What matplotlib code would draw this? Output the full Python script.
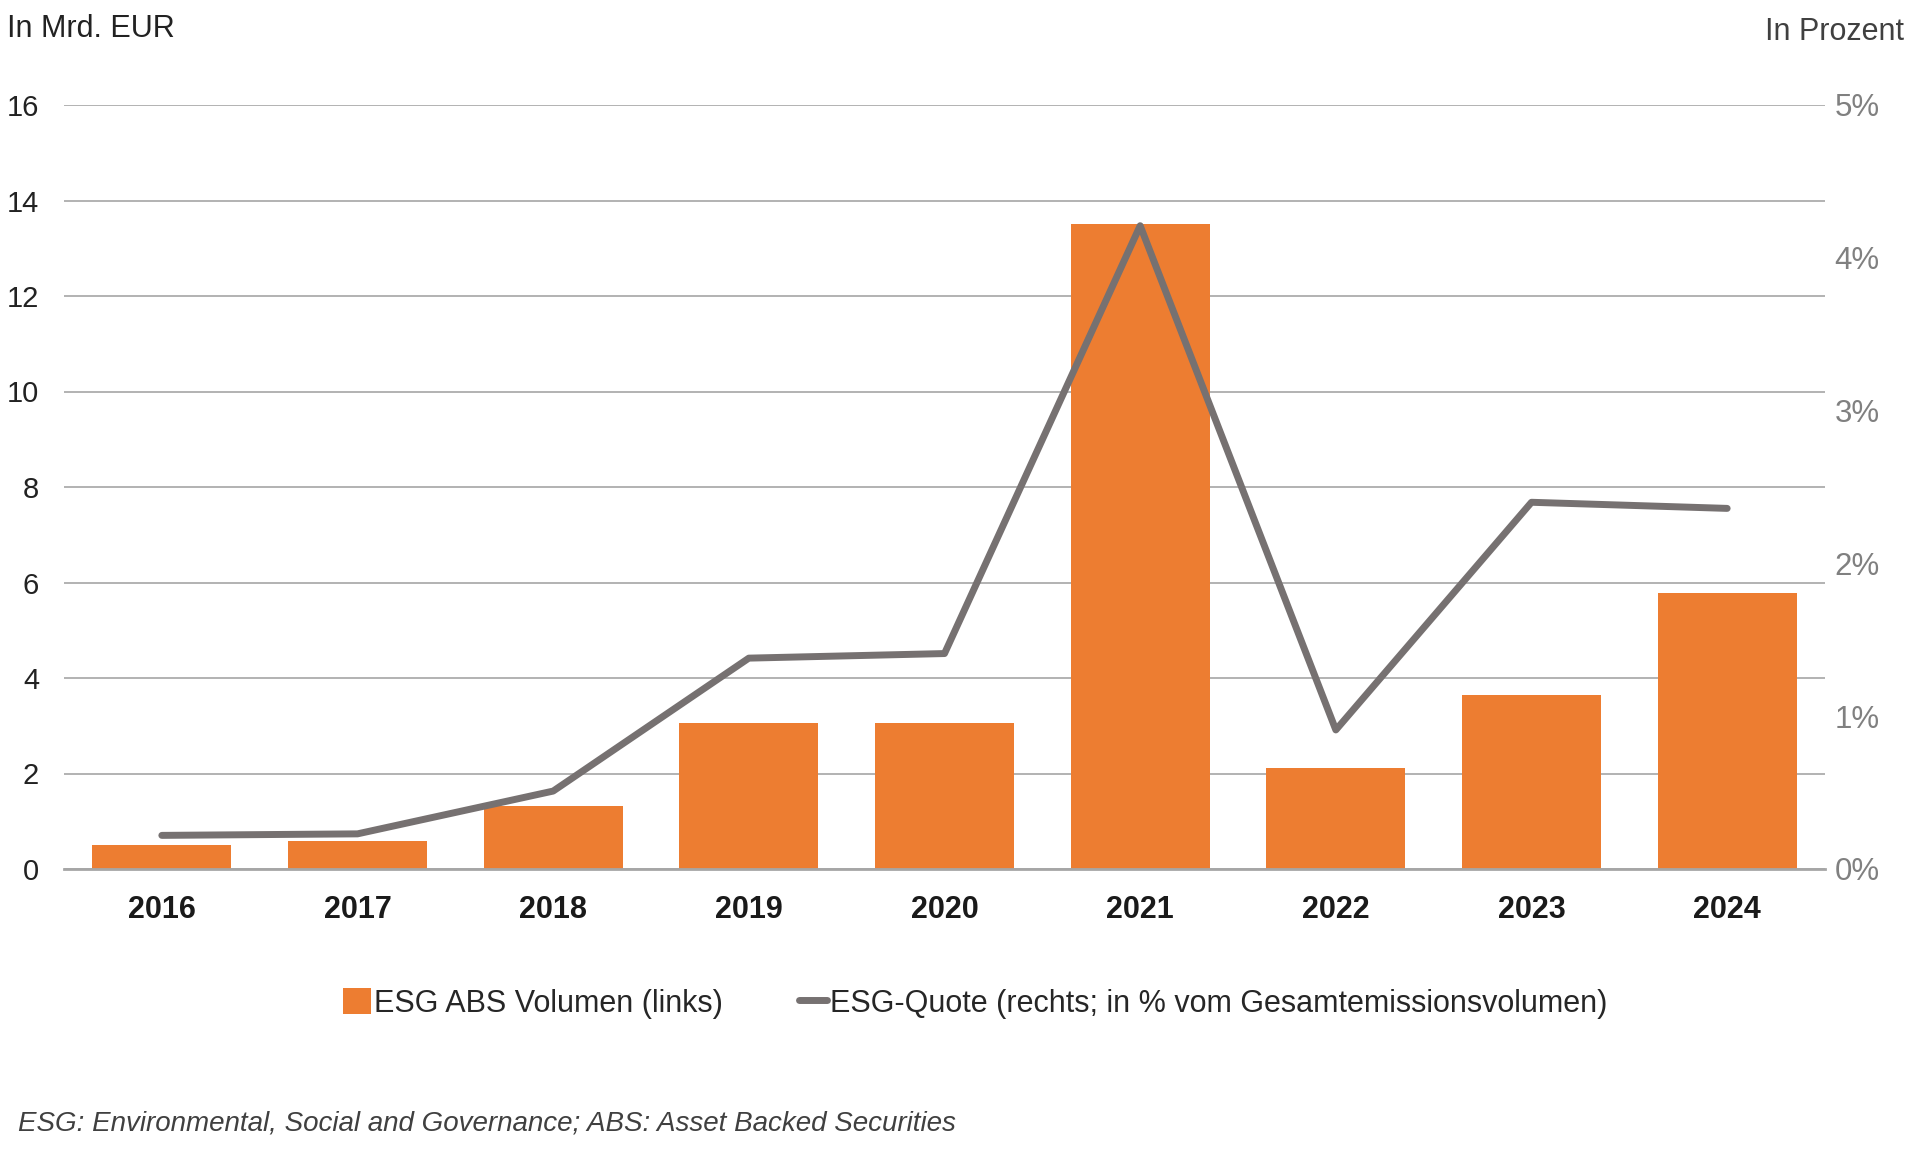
import matplotlib.pyplot as plt
from matplotlib.lines import Line2D
from matplotlib.patches import Patch
import numpy as np

plt.rcParams['font.family'] = ['Liberation Sans', 'DejaVu Sans']

# Data
years = ['2016', '2017', '2018', '2019', '2020', '2021', '2022', '2023', '2024']
volume = [0.50, 0.58, 1.31, 3.06, 3.05, 13.5, 2.11, 3.65, 5.79]   # Mrd. EUR
quote = [0.22, 0.23, 0.51, 1.38, 1.41, 4.21, 0.91, 2.40, 2.36]    # Prozent
left_ticks = [0, 2, 4, 6, 8, 10, 12, 14, 16]
right_ticks = [0, 1, 2, 3, 4, 5]

orange = '#ED7D31'
line_grey = '#767171'
grid_grey = '#a6a6a6'

fig = plt.figure(figsize=(19.2, 11.52), dpi=100)
ax = fig.add_axes([64 / 1920, 283 / 1152, 1761 / 1920, 764 / 1152])
x = np.arange(len(years))

ax.bar(x, volume, width=0.71, color=orange, zorder=2)
ax.set_xlim(-0.5, len(years) - 0.5)
ax.set_ylim(0, 16)
ax.set_yticks(left_ticks)
ax.set_xticks(x)
ax.set_xticklabels(years, fontsize=22, fontweight='bold', color='#1a1a1a')
ax.tick_params(axis='y', length=0, pad=18, labelsize=21, labelcolor='#222222')
ax.tick_params(axis='x', length=0, pad=19)
ax.yaxis.grid(True, color=grid_grey, linewidth=1.2)
ax.set_axisbelow(True)
for s in ['top', 'right', 'left']:
    ax.spines[s].set_visible(False)
ax.spines['bottom'].set_color(grid_grey)
ax.spines['bottom'].set_linewidth(2)

# Right axis: ESG-Quote
ax2 = ax.twinx()
ax2.plot(x, quote, color=line_grey, linewidth=5, solid_capstyle='round', zorder=3)
ax2.set_ylim(0, 5)
ax2.set_yticks(right_ticks)
ax2.set_yticklabels([f'{t}%' for t in right_ticks])
ax2.tick_params(axis='y', length=0, pad=7, labelsize=22.5, labelcolor='#808080')
for s in ['top', 'right', 'left', 'bottom']:
    ax2.spines[s].set_visible(False)

fig.text(7 / 1920, 0.9745, 'In Mrd. EUR', fontsize=22, color='#222222', va='center', ha='left')
fig.text(0.9915, 0.9725, 'In Prozent', fontsize=22, color='#404040', va='center', ha='right')

handles = [
    Patch(facecolor=orange, edgecolor='none'),
    Line2D([0], [0], color=line_grey, linewidth=5, solid_capstyle='round'),
]
labels = ['ESG ABS Volumen (links)', 'ESG-Quote (rechts; in % vom Gesamtemissionsvolumen)']
fig.legend(handles, labels, loc='center', bbox_to_anchor=(0.508, 0.129), ncol=2,
           frameon=False, fontsize=22, handlelength=0.9, handleheight=0.9,
           handletextpad=0.1, columnspacing=2.5, labelcolor='#262626')

fig.text(18 / 1920, 0.0245, 'ESG: Environmental, Social and Governance; ABS: Asset Backed Securities',
         fontsize=20, style='italic', color='#404040', va='center', ha='left')

fig.savefig('out.png', dpi=100)
